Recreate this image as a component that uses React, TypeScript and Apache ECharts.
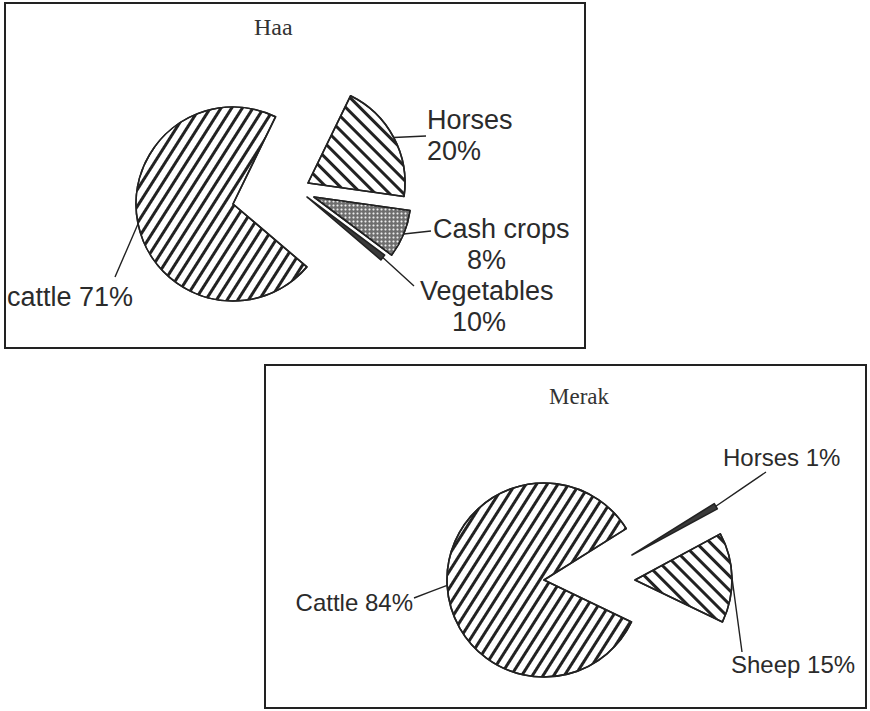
import React, { useEffect, useRef } from "react";
import * as echarts from "echarts";

// ---- data ----
const haaCategories = ["Horses", "Cash crops", "Vegetables", "cattle"];
const haaSliceValues = [20, 8, 1, 71]; // slice sizes as drawn
const haaLabelPercents = [20, 8, 10, 71]; // percentages as printed
const merakCategories = ["Horses", "Sheep", "Cattle"];
const merakSliceValues = [1, 15, 84];
const merakLabelPercents = [1, 15, 84];
const chartTitles = ["Haa", "Merak"];

const INK = "#222";
const TEXT = "#2b2b2b";
const SANS = "'Liberation Sans', Arial, sans-serif";
const SERIF = "'Liberation Serif', 'Times New Roman', serif";

const stripes = (gap: number, w: number, rot: number) => ({
  symbol: "rect",
  symbolSize: 1,
  color: INK,
  dashArrayX: [1, 0],
  dashArrayY: [w, gap],
  rotation: rot,
});

const slashDecal = stripes(5.8, 2.4, -Math.PI * 0.32);
const backDecal = stripes(6.4, 2.7, Math.PI * 0.25);
const dotDecal = {
  symbol: "circle",
  symbolSize: 0.7,
  color: "#eeeeee",
  dashArrayX: [3, 0.5],
  dashArrayY: [3, 0.5],
  rotation: 0,
};

type SliceStyle = { color: string; decal?: any };

type LabelSpec = {
  x: number;
  y: number;
  align: "left" | "right";
  end: [number, number];
  indent?: number;
};

function buildSeries(
  cats: string[],
  values: number[],
  percents: number[],
  visible: number,
  center: [number, number],
  startAngle: number,
  style: SliceStyle,
  label: LabelSpec,
  fontSize: number,
  twoLine: boolean
) {
  const text = twoLine
    ? `{a|${cats[visible]}}\n{b|${percents[visible]}%}`
    : `{a|${cats[visible]} ${percents[visible]}%}`;
  const lh = fontSize + 4;
  return {
    type: "pie",
    center,
    radius: 97,
    startAngle,
    clockwise: true,
    silent: true,
    avoidLabelOverlap: false,
    emphasis: { disabled: true },
    data: values.map((v, j) => ({
      name: cats[j],
      value: v,
      itemStyle:
        j === visible
          ? {
              color: style.color,
              decal: style.decal,
              borderColor: INK,
              borderWidth: 1.6,
            }
          : { color: "rgba(0,0,0,0)", borderWidth: 0 },
      label:
        j === visible
          ? {
              show: true,
              position: "outside",
              formatter: text,
              color: TEXT,
              fontFamily: SANS,
              fontSize,
              rich: {
                a: { fontFamily: SANS, fontSize, color: TEXT, lineHeight: lh },
                b: {
                  fontFamily: SANS,
                  fontSize,
                  color: TEXT,
                  lineHeight: lh,
                  padding: [0, 0, 0, label.indent || 0],
                },
              },
            }
          : { show: false },
      labelLine:
        j === visible
          ? { show: true, length: 10, length2: 10, lineStyle: { color: INK, width: 1.4 } }
          : { show: false },
    })),
    labelLayout: (params: any) => {
      if (params.dataIndex !== visible) return {};
      const pts = params.labelLinePoints;
      const start = pts && pts[0] ? pts[0] : label.end;
      return {
        x: label.x,
        y: label.y,
        align: label.align,
        verticalAlign: "middle",
        labelLinePoints: [start, [(start[0] + label.end[0]) / 2, (start[1] + label.end[1]) / 2], label.end],
      };
    },
  };
}

export default function App() {
  const ref = useRef<HTMLDivElement>(null);
  useEffect(() => {
    if (!ref.current) return;
    const chart = echarts.init(ref.current, undefined, { renderer: "svg" });
    const haaAngle = 64;
    const merakAngle = 32;
    const haaStyles: SliceStyle[] = [
      { color: "#fff", decal: backDecal },
      { color: "#6e6e6e", decal: dotDecal },
      { color: "#3a3a3a" },
      { color: "#fff", decal: slashDecal },
    ];
    const haaCenters: [number, number][] = [
      [308, 183],
      [314, 197],
      [307, 197],
      [233, 204],
    ];
    const haaLabels: LabelSpec[] = [
      { x: 427, y: 135, align: "left", end: [426, 136] },
      { x: 433, y: 244, align: "left", end: [431, 231], indent: 34 },
      { x: 420, y: 306, align: "left", end: [414, 286], indent: 32 },
      { x: 133, y: 297, align: "right", end: [115, 277] },
    ];
    const merakStyles: SliceStyle[] = [
      { color: "#3a3a3a" },
      { color: "#fff", decal: backDecal },
      { color: "#fff", decal: slashDecal },
    ];
    const merakCenters: [number, number][] = [
      [632, 555],
      [635, 580],
      [544, 580],
    ];
    const merakLabels: LabelSpec[] = [
      { x: 723, y: 457, align: "left", end: [766, 472] },
      { x: 731, y: 664, align: "left", end: [742, 652] },
      { x: 413, y: 602, align: "right", end: [414, 598] },
    ];

    const series: any[] = [];
    haaCategories.forEach((_, i) =>
      series.push(
        buildSeries(haaCategories, haaSliceValues, haaLabelPercents, i, haaCenters[i], haaAngle, haaStyles[i], haaLabels[i], 27, i !== 3)
      )
    );
    merakCategories.forEach((_, i) =>
      series.push(
        buildSeries(merakCategories, merakSliceValues, merakLabelPercents, i, merakCenters[i], merakAngle, merakStyles[i], merakLabels[i], 24, false)
      )
    );

    chart.setOption({
      animation: false,
      backgroundColor: "#fff",
      title: [
        {
          text: chartTitles[0],
          left: 254,
          top: 15,
          padding: 0,
          textStyle: { fontFamily: SERIF, fontWeight: "normal", fontSize: 24, color: "#333" },
        },
        {
          text: chartTitles[1],
          left: 549,
          top: 385,
          padding: 0,
          textStyle: { fontFamily: SERIF, fontWeight: "normal", fontSize: 23, color: "#333" },
        },
      ],
      graphic: [
        {
          type: "rect",
          shape: { x: 5, y: 3, width: 580, height: 345 },
          style: { fill: "none", stroke: INK, lineWidth: 2 },
          z: 10,
        },
        {
          type: "rect",
          shape: { x: 265, y: 365, width: 601, height: 343 },
          style: { fill: "none", stroke: INK, lineWidth: 2 },
          z: 10,
        },
      ],
      series,
    });
    return () => chart.dispose();
  }, []);
  return (
    <div
      ref={ref}
      style={{ position: "fixed", left: 0, top: 0, width: 870, height: 711, background: "#fff" }}
    />
  );
}
